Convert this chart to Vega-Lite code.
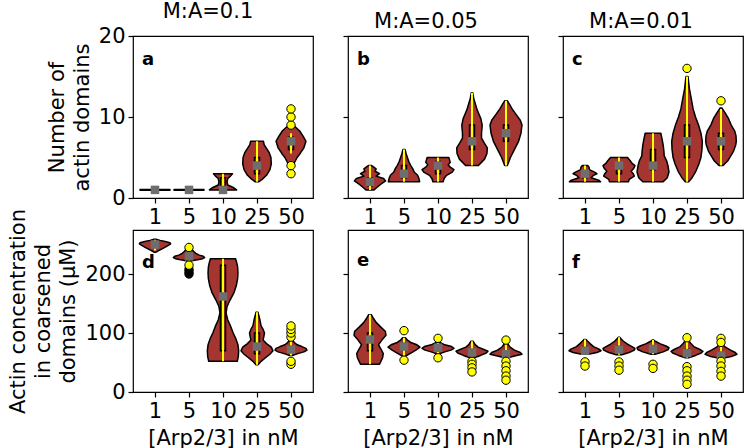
{
"$schema": "https://vega.github.io/schema/vega-lite/v6.json",
"padding": {"left": 7, "right": 0, "top": 0, "bottom": 0},
"datasets": {
"vio": [
{"p":"a","arp":1,"v":0.95,"w":0.44},{"p":"a","arp":1,"v":1.05,"w":0.44},
{"p":"a","arp":5,"v":0.95,"w":0.44},{"p":"a","arp":5,"v":1.05,"w":0.44},
{"p":"a","arp":10,"v":1,"w":0.40},{"p":"a","arp":10,"v":1.3,"w":0.30},{"p":"a","arp":10,"v":1.6,"w":0.14},{"p":"a","arp":10,"v":2.0,"w":0.12},{"p":"a","arp":10,"v":2.4,"w":0.14},{"p":"a","arp":10,"v":2.7,"w":0.22},{"p":"a","arp":10,"v":3.0,"w":0.28},
{"p":"a","arp":25,"v":2,"w":0.05},{"p":"a","arp":25,"v":2.3,"w":0.15},{"p":"a","arp":25,"v":2.8,"w":0.28},{"p":"a","arp":25,"v":3.5,"w":0.38},{"p":"a","arp":25,"v":4.2,"w":0.42},{"p":"a","arp":25,"v":5,"w":0.41},{"p":"a","arp":25,"v":5.6,"w":0.36},{"p":"a","arp":25,"v":6.2,"w":0.27},{"p":"a","arp":25,"v":6.6,"w":0.21},{"p":"a","arp":25,"v":7,"w":0.19},
{"p":"a","arp":50,"v":3.5,"w":0.02},{"p":"a","arp":50,"v":4.2,"w":0.08},{"p":"a","arp":50,"v":5,"w":0.18},{"p":"a","arp":50,"v":5.5,"w":0.27},{"p":"a","arp":50,"v":6.2,"w":0.38},{"p":"a","arp":50,"v":7,"w":0.44},{"p":"a","arp":50,"v":7.6,"w":0.36},{"p":"a","arp":50,"v":8.3,"w":0.25},{"p":"a","arp":50,"v":8.8,"w":0.12},{"p":"a","arp":50,"v":9.2,"w":0.02},
{"p":"b","arp":1,"v":1,"w":0.12},{"p":"b","arp":1,"v":1.3,"w":0.2},{"p":"b","arp":1,"v":1.7,"w":0.32},{"p":"b","arp":1,"v":2.1,"w":0.46},{"p":"b","arp":1,"v":2.4,"w":0.40},{"p":"b","arp":1,"v":2.7,"w":0.18},{"p":"b","arp":1,"v":3.0,"w":0.28},{"p":"b","arp":1,"v":3.3,"w":0.15},{"p":"b","arp":1,"v":3.6,"w":0.18},{"p":"b","arp":1,"v":4.0,"w":0.05},
{"p":"b","arp":5,"v":2,"w":0.46},{"p":"b","arp":5,"v":2.4,"w":0.44},{"p":"b","arp":5,"v":2.8,"w":0.40},{"p":"b","arp":5,"v":3.2,"w":0.3},{"p":"b","arp":5,"v":3.6,"w":0.26},{"p":"b","arp":5,"v":4.0,"w":0.2},{"p":"b","arp":5,"v":4.5,"w":0.14},{"p":"b","arp":5,"v":5.0,"w":0.1},{"p":"b","arp":5,"v":5.5,"w":0.06},{"p":"b","arp":5,"v":6,"w":0.03},
{"p":"b","arp":10,"v":2,"w":0.15},{"p":"b","arp":10,"v":2.4,"w":0.18},{"p":"b","arp":10,"v":2.8,"w":0.25},{"p":"b","arp":10,"v":3.2,"w":0.42},{"p":"b","arp":10,"v":3.5,"w":0.47},{"p":"b","arp":10,"v":3.8,"w":0.36},{"p":"b","arp":10,"v":4.1,"w":0.3},{"p":"b","arp":10,"v":4.4,"w":0.36},{"p":"b","arp":10,"v":4.7,"w":0.34},{"p":"b","arp":10,"v":5.0,"w":0.32},
{"p":"b","arp":25,"v":4,"w":0.19},{"p":"b","arp":25,"v":4.8,"w":0.37},{"p":"b","arp":25,"v":5.5,"w":0.44},{"p":"b","arp":25,"v":6.2,"w":0.45},{"p":"b","arp":25,"v":6.8,"w":0.36},{"p":"b","arp":25,"v":7.4,"w":0.28},{"p":"b","arp":25,"v":8,"w":0.28},{"p":"b","arp":25,"v":9,"w":0.3},{"p":"b","arp":25,"v":9.8,"w":0.26},{"p":"b","arp":25,"v":10.4,"w":0.2},{"p":"b","arp":25,"v":11,"w":0.14},{"p":"b","arp":25,"v":11.6,"w":0.1},{"p":"b","arp":25,"v":12.3,"w":0.05},{"p":"b","arp":25,"v":13,"w":0.02},
{"p":"b","arp":50,"v":4,"w":0.04},{"p":"b","arp":50,"v":5,"w":0.13},{"p":"b","arp":50,"v":6,"w":0.25},{"p":"b","arp":50,"v":7,"w":0.37},{"p":"b","arp":50,"v":8,"w":0.44},{"p":"b","arp":50,"v":9,"w":0.47},{"p":"b","arp":50,"v":9.6,"w":0.42},{"p":"b","arp":50,"v":10.3,"w":0.3},{"p":"b","arp":50,"v":11,"w":0.18},{"p":"b","arp":50,"v":11.6,"w":0.1},{"p":"b","arp":50,"v":12,"w":0.04},
{"p":"c","arp":1,"v":2,"w":0.46},{"p":"c","arp":1,"v":2.2,"w":0.4},{"p":"c","arp":1,"v":2.5,"w":0.18},{"p":"c","arp":1,"v":2.8,"w":0.25},{"p":"c","arp":1,"v":3.0,"w":0.35},{"p":"c","arp":1,"v":3.2,"w":0.28},{"p":"c","arp":1,"v":3.5,"w":0.13},{"p":"c","arp":1,"v":3.8,"w":0.12},{"p":"c","arp":1,"v":4.0,"w":0.08},
{"p":"c","arp":5,"v":2,"w":0.28},{"p":"c","arp":5,"v":2.3,"w":0.3},{"p":"c","arp":5,"v":2.7,"w":0.45},{"p":"c","arp":5,"v":3.0,"w":0.42},{"p":"c","arp":5,"v":3.3,"w":0.36},{"p":"c","arp":5,"v":3.7,"w":0.44},{"p":"c","arp":5,"v":4.0,"w":0.47},{"p":"c","arp":5,"v":4.3,"w":0.38},{"p":"c","arp":5,"v":4.6,"w":0.33},{"p":"c","arp":5,"v":5.0,"w":0.25},
{"p":"c","arp":10,"v":2,"w":0.3},{"p":"c","arp":10,"v":2.5,"w":0.42},{"p":"c","arp":10,"v":3.2,"w":0.47},{"p":"c","arp":10,"v":4,"w":0.44},{"p":"c","arp":10,"v":4.6,"w":0.4},{"p":"c","arp":10,"v":5.2,"w":0.33},{"p":"c","arp":10,"v":5.8,"w":0.32},{"p":"c","arp":10,"v":6.5,"w":0.3},{"p":"c","arp":10,"v":7.2,"w":0.27},{"p":"c","arp":10,"v":8,"w":0.23},
{"p":"c","arp":25,"v":2,"w":0.05},{"p":"c","arp":25,"v":2.5,"w":0.15},{"p":"c","arp":25,"v":3.3,"w":0.26},{"p":"c","arp":25,"v":4.2,"w":0.35},{"p":"c","arp":25,"v":5,"w":0.41},{"p":"c","arp":25,"v":6,"w":0.44},{"p":"c","arp":25,"v":7,"w":0.45},{"p":"c","arp":25,"v":8,"w":0.41},{"p":"c","arp":25,"v":9,"w":0.34},{"p":"c","arp":25,"v":10,"w":0.25},{"p":"c","arp":25,"v":11,"w":0.18},{"p":"c","arp":25,"v":12.4,"w":0.12},{"p":"c","arp":25,"v":13.5,"w":0.07},{"p":"c","arp":25,"v":15,"w":0.03},
{"p":"c","arp":50,"v":4,"w":0.06},{"p":"c","arp":50,"v":4.6,"w":0.2},{"p":"c","arp":50,"v":5.3,"w":0.3},{"p":"c","arp":50,"v":5.8,"w":0.37},{"p":"c","arp":50,"v":6.5,"w":0.43},{"p":"c","arp":50,"v":7,"w":0.45},{"p":"c","arp":50,"v":7.7,"w":0.44},{"p":"c","arp":50,"v":8.3,"w":0.4},{"p":"c","arp":50,"v":9,"w":0.3},{"p":"c","arp":50,"v":9.9,"w":0.21},{"p":"c","arp":50,"v":10.5,"w":0.12},{"p":"c","arp":50,"v":11.1,"w":0.03},
{"p":"d","arp":1,"v":237,"w":0.03},{"p":"d","arp":1,"v":240,"w":0.12},{"p":"d","arp":1,"v":244,"w":0.25},{"p":"d","arp":1,"v":248,"w":0.38},{"p":"d","arp":1,"v":251,"w":0.46},{"p":"d","arp":1,"v":253,"w":0.44},{"p":"d","arp":1,"v":255,"w":0.3},{"p":"d","arp":1,"v":257,"w":0.15},{"p":"d","arp":1,"v":259,"w":0.03},
{"p":"d","arp":5,"v":222,"w":0.05},{"p":"d","arp":5,"v":224,"w":0.25},{"p":"d","arp":5,"v":226,"w":0.4},{"p":"d","arp":5,"v":228,"w":0.46},{"p":"d","arp":5,"v":230,"w":0.42},{"p":"d","arp":5,"v":232,"w":0.3},{"p":"d","arp":5,"v":235,"w":0.2},{"p":"d","arp":5,"v":238,"w":0.14},{"p":"d","arp":5,"v":242,"w":0.08},
{"p":"d","arp":10,"v":52,"w":0.42},{"p":"d","arp":10,"v":60,"w":0.45},{"p":"d","arp":10,"v":70,"w":0.46},{"p":"d","arp":10,"v":80,"w":0.44},{"p":"d","arp":10,"v":90,"w":0.38},{"p":"d","arp":10,"v":100,"w":0.3},{"p":"d","arp":10,"v":112,"w":0.22},{"p":"d","arp":10,"v":122,"w":0.14},{"p":"d","arp":10,"v":134,"w":0.09},{"p":"d","arp":10,"v":145,"w":0.12},{"p":"d","arp":10,"v":155,"w":0.2},{"p":"d","arp":10,"v":168,"w":0.32},{"p":"d","arp":10,"v":180,"w":0.39},{"p":"d","arp":10,"v":192,"w":0.43},{"p":"d","arp":10,"v":202,"w":0.44},{"p":"d","arp":10,"v":212,"w":0.43},{"p":"d","arp":10,"v":220,"w":0.4},{"p":"d","arp":10,"v":226,"w":0.37},
{"p":"d","arp":25,"v":46,"w":0.03},{"p":"d","arp":25,"v":52,"w":0.12},{"p":"d","arp":25,"v":58,"w":0.25},{"p":"d","arp":25,"v":64,"w":0.38},{"p":"d","arp":25,"v":70,"w":0.47},{"p":"d","arp":25,"v":76,"w":0.42},{"p":"d","arp":25,"v":82,"w":0.28},{"p":"d","arp":25,"v":88,"w":0.18},{"p":"d","arp":25,"v":94,"w":0.2},{"p":"d","arp":25,"v":100,"w":0.22},{"p":"d","arp":25,"v":106,"w":0.18},{"p":"d","arp":25,"v":112,"w":0.12},{"p":"d","arp":25,"v":118,"w":0.1},{"p":"d","arp":25,"v":124,"w":0.08},{"p":"d","arp":25,"v":130,"w":0.05},{"p":"d","arp":25,"v":135,"w":0.03},
{"p":"d","arp":50,"v":62,"w":0.04},{"p":"d","arp":50,"v":65,"w":0.2},{"p":"d","arp":50,"v":68,"w":0.38},{"p":"d","arp":50,"v":71,"w":0.47},{"p":"d","arp":50,"v":74,"w":0.44},{"p":"d","arp":50,"v":77,"w":0.32},{"p":"d","arp":50,"v":80,"w":0.18},{"p":"d","arp":50,"v":84,"w":0.1},{"p":"d","arp":50,"v":88,"w":0.04},
{"p":"e","arp":1,"v":47,"w":0.28},{"p":"e","arp":1,"v":52,"w":0.32},{"p":"e","arp":1,"v":58,"w":0.37},{"p":"e","arp":1,"v":65,"w":0.39},{"p":"e","arp":1,"v":72,"w":0.33},{"p":"e","arp":1,"v":80,"w":0.25},{"p":"e","arp":1,"v":88,"w":0.35},{"p":"e","arp":1,"v":96,"w":0.47},{"p":"e","arp":1,"v":103,"w":0.45},{"p":"e","arp":1,"v":110,"w":0.32},{"p":"e","arp":1,"v":118,"w":0.18},{"p":"e","arp":1,"v":125,"w":0.1},{"p":"e","arp":1,"v":131,"w":0.04},
{"p":"e","arp":5,"v":61,"w":0.05},{"p":"e","arp":5,"v":66,"w":0.2},{"p":"e","arp":5,"v":71,"w":0.35},{"p":"e","arp":5,"v":76,"w":0.47},{"p":"e","arp":5,"v":80,"w":0.38},{"p":"e","arp":5,"v":84,"w":0.2},{"p":"e","arp":5,"v":88,"w":0.1},{"p":"e","arp":5,"v":92,"w":0.04},
{"p":"e","arp":10,"v":65,"w":0.06},{"p":"e","arp":10,"v":68,"w":0.2},{"p":"e","arp":10,"v":71,"w":0.38},{"p":"e","arp":10,"v":74,"w":0.47},{"p":"e","arp":10,"v":77,"w":0.4},{"p":"e","arp":10,"v":80,"w":0.2},{"p":"e","arp":10,"v":84,"w":0.06},
{"p":"e","arp":25,"v":58,"w":0.06},{"p":"e","arp":25,"v":62,"w":0.25},{"p":"e","arp":25,"v":66,"w":0.42},{"p":"e","arp":25,"v":69,"w":0.47},{"p":"e","arp":25,"v":72,"w":0.35},{"p":"e","arp":25,"v":76,"w":0.18},{"p":"e","arp":25,"v":80,"w":0.1},{"p":"e","arp":25,"v":86,"w":0.03},
{"p":"e","arp":50,"v":58,"w":0.05},{"p":"e","arp":50,"v":61,"w":0.25},{"p":"e","arp":50,"v":64,"w":0.47},{"p":"e","arp":50,"v":67,"w":0.42},{"p":"e","arp":50,"v":71,"w":0.25},{"p":"e","arp":50,"v":76,"w":0.12},{"p":"e","arp":50,"v":81,"w":0.06},{"p":"e","arp":50,"v":85,"w":0.02},
{"p":"f","arp":1,"v":64,"w":0.1},{"p":"f","arp":1,"v":67,"w":0.35},{"p":"f","arp":1,"v":70,"w":0.47},{"p":"f","arp":1,"v":73,"w":0.4},{"p":"f","arp":1,"v":77,"w":0.25},{"p":"f","arp":1,"v":82,"w":0.15},{"p":"f","arp":1,"v":86,"w":0.08},{"p":"f","arp":1,"v":89,"w":0.03},
{"p":"f","arp":5,"v":63,"w":0.08},{"p":"f","arp":5,"v":67,"w":0.3},{"p":"f","arp":5,"v":71,"w":0.45},{"p":"f","arp":5,"v":74,"w":0.47},{"p":"f","arp":5,"v":77,"w":0.38},{"p":"f","arp":5,"v":81,"w":0.25},{"p":"f","arp":5,"v":86,"w":0.13},{"p":"f","arp":5,"v":90,"w":0.06},{"p":"f","arp":5,"v":93,"w":0.02},
{"p":"f","arp":10,"v":64,"w":0.06},{"p":"f","arp":10,"v":68,"w":0.3},{"p":"f","arp":10,"v":72,"w":0.45},{"p":"f","arp":10,"v":75,"w":0.47},{"p":"f","arp":10,"v":78,"w":0.38},{"p":"f","arp":10,"v":82,"w":0.2},{"p":"f","arp":10,"v":86,"w":0.07},{"p":"f","arp":10,"v":88,"w":0.02},
{"p":"f","arp":25,"v":58,"w":0.05},{"p":"f","arp":25,"v":62,"w":0.25},{"p":"f","arp":25,"v":66,"w":0.42},{"p":"f","arp":25,"v":69,"w":0.47},{"p":"f","arp":25,"v":72,"w":0.38},{"p":"f","arp":25,"v":77,"w":0.2},{"p":"f","arp":25,"v":83,"w":0.1},{"p":"f","arp":25,"v":88,"w":0.05},{"p":"f","arp":25,"v":92,"w":0.02},
{"p":"f","arp":50,"v":57,"w":0.05},{"p":"f","arp":50,"v":60,"w":0.3},{"p":"f","arp":50,"v":64,"w":0.47},{"p":"f","arp":50,"v":67,"w":0.42},{"p":"f","arp":50,"v":71,"w":0.28},{"p":"f","arp":50,"v":76,"w":0.13},{"p":"f","arp":50,"v":80,"w":0.06},{"p":"f","arp":50,"v":84,"w":0.02}
],
"stat": [
{"p":"a","arp":1,"lo":1,"q1":1,"med":1,"q3":1,"hi":1},
{"p":"a","arp":5,"lo":1,"q1":1,"med":1,"q3":1,"hi":1},
{"p":"a","arp":10,"lo":1,"q1":1,"med":1,"q3":2.5,"hi":3},
{"p":"a","arp":25,"lo":2,"q1":3,"med":4,"q3":5,"hi":7},
{"p":"a","arp":50,"lo":5.5,"q1":6,"med":7,"q3":7.5,"hi":8},
{"p":"b","arp":1,"lo":1,"q1":1.5,"med":2,"q3":2.5,"hi":4},
{"p":"b","arp":5,"lo":2,"q1":2.5,"med":3,"q3":4,"hi":6},
{"p":"b","arp":10,"lo":2,"q1":3,"med":4,"q3":4.5,"hi":5},
{"p":"b","arp":25,"lo":4,"q1":6,"med":7,"q3":9,"hi":13},
{"p":"b","arp":50,"lo":4,"q1":7,"med":8,"q3":9,"hi":12},
{"p":"c","arp":1,"lo":2,"q1":2.5,"med":3,"q3":3.3,"hi":4},
{"p":"c","arp":5,"lo":2,"q1":3,"med":4,"q3":4.2,"hi":5},
{"p":"c","arp":10,"lo":2,"q1":3.5,"med":4,"q3":6,"hi":8},
{"p":"c","arp":25,"lo":2,"q1":5,"med":7,"q3":9,"hi":15},
{"p":"c","arp":50,"lo":4,"q1":6,"med":7,"q3":8,"hi":11},
{"p":"d","arp":1,"lo":240,"q1":247,"med":250,"q3":253,"hi":258},
{"p":"d","arp":5,"lo":222,"q1":226,"med":230,"q3":235,"hi":242},
{"p":"d","arp":10,"lo":52,"q1":70,"med":162,"q3":215,"hi":226},
{"p":"d","arp":25,"lo":46,"q1":65,"med":77,"q3":100,"hi":135},
{"p":"d","arp":50,"lo":62,"q1":68,"med":72,"q3":77,"hi":88},
{"p":"e","arp":1,"lo":47,"q1":70,"med":89,"q3":100,"hi":131},
{"p":"e","arp":5,"lo":61,"q1":72,"med":77,"q3":82,"hi":92},
{"p":"e","arp":10,"lo":65,"q1":70,"med":75,"q3":78,"hi":84},
{"p":"e","arp":25,"lo":58,"q1":63,"med":67,"q3":72,"hi":86},
{"p":"e","arp":50,"lo":58,"q1":60,"med":64,"q3":70,"hi":85},
{"p":"f","arp":1,"lo":64,"q1":67,"med":70,"q3":76,"hi":89},
{"p":"f","arp":5,"lo":63,"q1":68,"med":72,"q3":78,"hi":93},
{"p":"f","arp":10,"lo":64,"q1":69,"med":73,"q3":78,"hi":88},
{"p":"f","arp":25,"lo":58,"q1":62,"med":66,"q3":72,"hi":92},
{"p":"f","arp":50,"lo":57,"q1":59,"med":62,"q3":68,"hi":84}
],
"out": [
{"p":"a","arp":50,"v":3,"k":"y"},{"p":"a","arp":50,"v":4,"k":"y"},{"p":"a","arp":50,"v":9,"k":"y"},{"p":"a","arp":50,"v":10,"k":"y"},{"p":"a","arp":50,"v":11,"k":"y"},
{"p":"c","arp":25,"v":16,"k":"y"},{"p":"c","arp":50,"v":12,"k":"y"},
{"p":"d","arp":5,"v":208,"k":"k"},{"p":"d","arp":5,"v":204,"k":"k"},{"p":"d","arp":5,"v":200,"k":"k"},{"p":"d","arp":5,"v":245,"k":"y"},{"p":"d","arp":5,"v":215,"k":"y"},
{"p":"d","arp":50,"v":47,"k":"y"},{"p":"d","arp":50,"v":52,"k":"y"},{"p":"d","arp":50,"v":93,"k":"y"},{"p":"d","arp":50,"v":100,"k":"y"},{"p":"d","arp":50,"v":106,"k":"y"},{"p":"d","arp":50,"v":112,"k":"y"},
{"p":"e","arp":5,"v":54,"k":"y"},{"p":"e","arp":5,"v":104,"k":"y"},
{"p":"e","arp":10,"v":58,"k":"y"},{"p":"e","arp":10,"v":91,"k":"y"},
{"p":"e","arp":25,"v":52,"k":"y"},{"p":"e","arp":25,"v":47,"k":"y"},{"p":"e","arp":25,"v":41,"k":"y"},{"p":"e","arp":25,"v":34,"k":"y"},
{"p":"e","arp":50,"v":88,"k":"y"},{"p":"e","arp":50,"v":52,"k":"y"},{"p":"e","arp":50,"v":44,"k":"y"},{"p":"e","arp":50,"v":36,"k":"y"},{"p":"e","arp":50,"v":27,"k":"y"},{"p":"e","arp":50,"v":20,"k":"y"},
{"p":"f","arp":1,"v":51,"k":"y"},{"p":"f","arp":1,"v":44,"k":"y"},
{"p":"f","arp":5,"v":51,"k":"y"},{"p":"f","arp":5,"v":44,"k":"y"},{"p":"f","arp":5,"v":37,"k":"y"},
{"p":"f","arp":10,"v":47,"k":"y"},{"p":"f","arp":10,"v":40,"k":"y"},
{"p":"f","arp":25,"v":92,"k":"y"},{"p":"f","arp":25,"v":43,"k":"y"},{"p":"f","arp":25,"v":36,"k":"y"},{"p":"f","arp":25,"v":27,"k":"y"},{"p":"f","arp":25,"v":20,"k":"y"},{"p":"f","arp":25,"v":13,"k":"y"},
{"p":"f","arp":50,"v":91,"k":"y"},{"p":"f","arp":50,"v":84,"k":"y"},{"p":"f","arp":50,"v":52,"k":"y"},{"p":"f","arp":50,"v":44,"k":"y"},{"p":"f","arp":50,"v":35,"k":"y"},{"p":"f","arp":50,"v":27,"k":"y"}
]
},
"columns": 3,
"bounds": "flush",
"spacing": {"row": 32, "column": 35},
"concat": [
{"width":180,"height":162,"title":{"text":"M:A=0.1","dx":-15},
"layer":[
{"data":{"name":"vio"},"transform":[{"filter":"datum.p == 'a'"},{"calculate":"indexof([1,5,10,25,50], datum.arp) + 1","as":"i"},{"calculate":"datum.i - datum.w","as":"xl"},{"calculate":"datum.i + datum.w","as":"xr"}],
"mark":{"type":"area","orient":"horizontal","fill":"#a53530","stroke":"black","strokeWidth":1.5,"strokeJoin":"round"},
"encoding":{"x":{"field":"xl","type":"quantitative","stack":null,"scale":{"domain":[0.5,5.5],"nice":false},"axis":{"values":[1,2,3,4,5],"labelExpr":"['1','5','10','25','50'][datum.value - 1]","title":null}},"x2":{"field":"xr"},
"y":{"field":"v","type":"quantitative","scale":{"domain":[0,20],"nice":false},"axis":{"values":[0,10,20],"title":["Number of","actin domains"]}},"detail":{"field":"arp","type":"nominal"}}},
{"data":{"name":"stat"},"transform":[{"filter":"datum.p == 'a'"},{"calculate":"indexof([1,5,10,25,50], datum.arp) + 1","as":"i"}],
"mark":{"type":"bar","size":5,"fillOpacity":0,"stroke":"black","strokeWidth":1.5},
"encoding":{"x":{"field":"i","type":"quantitative"},"y":{"field":"q1","type":"quantitative"},"y2":{"field":"q3"}}},
{"data":{"name":"stat"},"transform":[{"filter":"datum.p == 'a'"},{"calculate":"indexof([1,5,10,25,50], datum.arp) + 1","as":"i"}],
"mark":{"type":"rule","color":"#ffff00","strokeWidth":2},
"encoding":{"x":{"field":"i","type":"quantitative"},"y":{"field":"lo","type":"quantitative"},"y2":{"field":"hi"}}},
{"data":{"name":"stat"},"transform":[{"filter":"datum.p == 'a'"},{"calculate":"indexof([1,5,10,25,50], datum.arp) + 1","as":"i"}],
"mark":{"type":"point","shape":"square","filled":true,"color":"#6e6e6e","size":72,"opacity":1},
"encoding":{"x":{"field":"i","type":"quantitative"},"y":{"field":"med","type":"quantitative"}}},
{"data":{"name":"out"},"transform":[{"filter":"datum.p == 'a'"},{"calculate":"indexof([1,5,10,25,50], datum.arp) + 1","as":"i"}],
"mark":{"type":"point","shape":"circle","filled":true,"stroke":"black","strokeWidth":1,"size":70,"opacity":1},
"encoding":{"x":{"field":"i","type":"quantitative"},"y":{"field":"v","type":"quantitative"},"fill":{"field":"k","type":"nominal","scale":{"domain":["y","k"],"range":["#ffff00","black"]},"legend":null}}},
{"data":{"values":[{"t":"a"}]},"mark":{"type":"text","fontWeight":"bold","fontSize":18,"align":"left","baseline":"middle","color":"black"},
"encoding":{"text":{"field":"t"},"x":{"datum":0.62,"type":"quantitative"},"y":{"datum":17,"type":"quantitative"}}}
]},
{"width":180,"height":162,"title":{"text":"M:A=0.05","dx":-12},
"layer":[
{"data":{"name":"vio"},"transform":[{"filter":"datum.p == 'b'"},{"calculate":"indexof([1,5,10,25,50], datum.arp) + 1","as":"i"},{"calculate":"datum.i - datum.w","as":"xl"},{"calculate":"datum.i + datum.w","as":"xr"}],
"mark":{"type":"area","orient":"horizontal","fill":"#a53530","stroke":"black","strokeWidth":1.5,"strokeJoin":"round"},
"encoding":{"x":{"field":"xl","type":"quantitative","stack":null,"scale":{"domain":[0.5,5.5],"nice":false},"axis":{"values":[1,2,3,4,5],"labelExpr":"['1','5','10','25','50'][datum.value - 1]","title":null}},"x2":{"field":"xr"},
"y":{"field":"v","type":"quantitative","scale":{"domain":[0,20],"nice":false},"axis":{"values":[0,10,20],"labels":false,"title":null}},"detail":{"field":"arp","type":"nominal"}}},
{"data":{"name":"stat"},"transform":[{"filter":"datum.p == 'b'"},{"calculate":"indexof([1,5,10,25,50], datum.arp) + 1","as":"i"}],
"mark":{"type":"bar","size":5,"fillOpacity":0,"stroke":"black","strokeWidth":1.5},
"encoding":{"x":{"field":"i","type":"quantitative"},"y":{"field":"q1","type":"quantitative"},"y2":{"field":"q3"}}},
{"data":{"name":"stat"},"transform":[{"filter":"datum.p == 'b'"},{"calculate":"indexof([1,5,10,25,50], datum.arp) + 1","as":"i"}],
"mark":{"type":"rule","color":"#ffff00","strokeWidth":2},
"encoding":{"x":{"field":"i","type":"quantitative"},"y":{"field":"lo","type":"quantitative"},"y2":{"field":"hi"}}},
{"data":{"name":"stat"},"transform":[{"filter":"datum.p == 'b'"},{"calculate":"indexof([1,5,10,25,50], datum.arp) + 1","as":"i"}],
"mark":{"type":"point","shape":"square","filled":true,"color":"#6e6e6e","size":72,"opacity":1},
"encoding":{"x":{"field":"i","type":"quantitative"},"y":{"field":"med","type":"quantitative"}}},
{"data":{"name":"out"},"transform":[{"filter":"datum.p == 'b'"},{"calculate":"indexof([1,5,10,25,50], datum.arp) + 1","as":"i"}],
"mark":{"type":"point","shape":"circle","filled":true,"stroke":"black","strokeWidth":1,"size":70,"opacity":1},
"encoding":{"x":{"field":"i","type":"quantitative"},"y":{"field":"v","type":"quantitative"},"fill":{"field":"k","type":"nominal","scale":{"domain":["y","k"],"range":["#ffff00","black"]},"legend":null}}},
{"data":{"values":[{"t":"b"}]},"mark":{"type":"text","fontWeight":"bold","fontSize":18,"align":"left","baseline":"middle","color":"black"},
"encoding":{"text":{"field":"t"},"x":{"datum":0.62,"type":"quantitative"},"y":{"datum":17,"type":"quantitative"}}}
]},
{"width":180,"height":162,"title":{"text":"M:A=0.01","dx":-12},
"layer":[
{"data":{"name":"vio"},"transform":[{"filter":"datum.p == 'c'"},{"calculate":"indexof([1,5,10,25,50], datum.arp) + 1","as":"i"},{"calculate":"datum.i - datum.w","as":"xl"},{"calculate":"datum.i + datum.w","as":"xr"}],
"mark":{"type":"area","orient":"horizontal","fill":"#a53530","stroke":"black","strokeWidth":1.5,"strokeJoin":"round"},
"encoding":{"x":{"field":"xl","type":"quantitative","stack":null,"scale":{"domain":[0.5,5.5],"nice":false},"axis":{"values":[1,2,3,4,5],"labelExpr":"['1','5','10','25','50'][datum.value - 1]","title":null}},"x2":{"field":"xr"},
"y":{"field":"v","type":"quantitative","scale":{"domain":[0,20],"nice":false},"axis":{"values":[0,10,20],"labels":false,"title":null}},"detail":{"field":"arp","type":"nominal"}}},
{"data":{"name":"stat"},"transform":[{"filter":"datum.p == 'c'"},{"calculate":"indexof([1,5,10,25,50], datum.arp) + 1","as":"i"}],
"mark":{"type":"bar","size":5,"fillOpacity":0,"stroke":"black","strokeWidth":1.5},
"encoding":{"x":{"field":"i","type":"quantitative"},"y":{"field":"q1","type":"quantitative"},"y2":{"field":"q3"}}},
{"data":{"name":"stat"},"transform":[{"filter":"datum.p == 'c'"},{"calculate":"indexof([1,5,10,25,50], datum.arp) + 1","as":"i"}],
"mark":{"type":"rule","color":"#ffff00","strokeWidth":2},
"encoding":{"x":{"field":"i","type":"quantitative"},"y":{"field":"lo","type":"quantitative"},"y2":{"field":"hi"}}},
{"data":{"name":"stat"},"transform":[{"filter":"datum.p == 'c'"},{"calculate":"indexof([1,5,10,25,50], datum.arp) + 1","as":"i"}],
"mark":{"type":"point","shape":"square","filled":true,"color":"#6e6e6e","size":72,"opacity":1},
"encoding":{"x":{"field":"i","type":"quantitative"},"y":{"field":"med","type":"quantitative"}}},
{"data":{"name":"out"},"transform":[{"filter":"datum.p == 'c'"},{"calculate":"indexof([1,5,10,25,50], datum.arp) + 1","as":"i"}],
"mark":{"type":"point","shape":"circle","filled":true,"stroke":"black","strokeWidth":1,"size":70,"opacity":1},
"encoding":{"x":{"field":"i","type":"quantitative"},"y":{"field":"v","type":"quantitative"},"fill":{"field":"k","type":"nominal","scale":{"domain":["y","k"],"range":["#ffff00","black"]},"legend":null}}},
{"data":{"values":[{"t":"c"}]},"mark":{"type":"text","fontWeight":"bold","fontSize":18,"align":"left","baseline":"middle","color":"black"},
"encoding":{"text":{"field":"t"},"x":{"datum":0.62,"type":"quantitative"},"y":{"datum":17,"type":"quantitative"}}}
]},
{"width":180,"height":162,
"layer":[
{"data":{"name":"vio"},"transform":[{"filter":"datum.p == 'd'"},{"calculate":"indexof([1,5,10,25,50], datum.arp) + 1","as":"i"},{"calculate":"datum.i - datum.w","as":"xl"},{"calculate":"datum.i + datum.w","as":"xr"}],
"mark":{"type":"area","orient":"horizontal","fill":"#a53530","stroke":"black","strokeWidth":1.5,"strokeJoin":"round"},
"encoding":{"x":{"field":"xl","type":"quantitative","stack":null,"scale":{"domain":[0.5,5.5],"nice":false},"axis":{"values":[1,2,3,4,5],"labelExpr":"['1','5','10','25','50'][datum.value - 1]","title":"[Arp2/3] in nM"}},"x2":{"field":"xr"},
"y":{"field":"v","type":"quantitative","scale":{"domain":[0,274.6],"nice":false},"axis":{"values":[0,100,200],"title":["Actin concentration","in coarsened","domains (μM)"]}},"detail":{"field":"arp","type":"nominal"}}},
{"data":{"name":"stat"},"transform":[{"filter":"datum.p == 'd'"},{"calculate":"indexof([1,5,10,25,50], datum.arp) + 1","as":"i"}],
"mark":{"type":"bar","size":5,"fillOpacity":0,"stroke":"black","strokeWidth":1.5},
"encoding":{"x":{"field":"i","type":"quantitative"},"y":{"field":"q1","type":"quantitative"},"y2":{"field":"q3"}}},
{"data":{"name":"stat"},"transform":[{"filter":"datum.p == 'd'"},{"calculate":"indexof([1,5,10,25,50], datum.arp) + 1","as":"i"}],
"mark":{"type":"rule","color":"#ffff00","strokeWidth":2},
"encoding":{"x":{"field":"i","type":"quantitative"},"y":{"field":"lo","type":"quantitative"},"y2":{"field":"hi"}}},
{"data":{"name":"stat"},"transform":[{"filter":"datum.p == 'd'"},{"calculate":"indexof([1,5,10,25,50], datum.arp) + 1","as":"i"}],
"mark":{"type":"point","shape":"square","filled":true,"color":"#6e6e6e","size":72,"opacity":1},
"encoding":{"x":{"field":"i","type":"quantitative"},"y":{"field":"med","type":"quantitative"}}},
{"data":{"name":"out"},"transform":[{"filter":"datum.p == 'd'"},{"calculate":"indexof([1,5,10,25,50], datum.arp) + 1","as":"i"}],
"mark":{"type":"point","shape":"circle","filled":true,"stroke":"black","strokeWidth":1,"size":70,"opacity":1},
"encoding":{"x":{"field":"i","type":"quantitative"},"y":{"field":"v","type":"quantitative"},"fill":{"field":"k","type":"nominal","scale":{"domain":["y","k"],"range":["#ffff00","black"]},"legend":null}}},
{"data":{"values":[{"t":"d"}]},"mark":{"type":"text","fontWeight":"bold","fontSize":18,"align":"left","baseline":"middle","color":"black"},
"encoding":{"text":{"field":"t"},"x":{"datum":0.62,"type":"quantitative"},"y":{"datum":218,"type":"quantitative"}}}
]},
{"width":180,"height":162,
"layer":[
{"data":{"name":"vio"},"transform":[{"filter":"datum.p == 'e'"},{"calculate":"indexof([1,5,10,25,50], datum.arp) + 1","as":"i"},{"calculate":"datum.i - datum.w","as":"xl"},{"calculate":"datum.i + datum.w","as":"xr"}],
"mark":{"type":"area","orient":"horizontal","fill":"#a53530","stroke":"black","strokeWidth":1.5,"strokeJoin":"round"},
"encoding":{"x":{"field":"xl","type":"quantitative","stack":null,"scale":{"domain":[0.5,5.5],"nice":false},"axis":{"values":[1,2,3,4,5],"labelExpr":"['1','5','10','25','50'][datum.value - 1]","title":"[Arp2/3] in nM"}},"x2":{"field":"xr"},
"y":{"field":"v","type":"quantitative","scale":{"domain":[0,274.6],"nice":false},"axis":{"values":[0,100,200],"labels":false,"title":null}},"detail":{"field":"arp","type":"nominal"}}},
{"data":{"name":"stat"},"transform":[{"filter":"datum.p == 'e'"},{"calculate":"indexof([1,5,10,25,50], datum.arp) + 1","as":"i"}],
"mark":{"type":"bar","size":5,"fillOpacity":0,"stroke":"black","strokeWidth":1.5},
"encoding":{"x":{"field":"i","type":"quantitative"},"y":{"field":"q1","type":"quantitative"},"y2":{"field":"q3"}}},
{"data":{"name":"stat"},"transform":[{"filter":"datum.p == 'e'"},{"calculate":"indexof([1,5,10,25,50], datum.arp) + 1","as":"i"}],
"mark":{"type":"rule","color":"#ffff00","strokeWidth":2},
"encoding":{"x":{"field":"i","type":"quantitative"},"y":{"field":"lo","type":"quantitative"},"y2":{"field":"hi"}}},
{"data":{"name":"stat"},"transform":[{"filter":"datum.p == 'e'"},{"calculate":"indexof([1,5,10,25,50], datum.arp) + 1","as":"i"}],
"mark":{"type":"point","shape":"square","filled":true,"color":"#6e6e6e","size":72,"opacity":1},
"encoding":{"x":{"field":"i","type":"quantitative"},"y":{"field":"med","type":"quantitative"}}},
{"data":{"name":"out"},"transform":[{"filter":"datum.p == 'e'"},{"calculate":"indexof([1,5,10,25,50], datum.arp) + 1","as":"i"}],
"mark":{"type":"point","shape":"circle","filled":true,"stroke":"black","strokeWidth":1,"size":70,"opacity":1},
"encoding":{"x":{"field":"i","type":"quantitative"},"y":{"field":"v","type":"quantitative"},"fill":{"field":"k","type":"nominal","scale":{"domain":["y","k"],"range":["#ffff00","black"]},"legend":null}}},
{"data":{"values":[{"t":"e"}]},"mark":{"type":"text","fontWeight":"bold","fontSize":18,"align":"left","baseline":"middle","color":"black"},
"encoding":{"text":{"field":"t"},"x":{"datum":0.62,"type":"quantitative"},"y":{"datum":222,"type":"quantitative"}}}
]},
{"width":180,"height":162,
"layer":[
{"data":{"name":"vio"},"transform":[{"filter":"datum.p == 'f'"},{"calculate":"indexof([1,5,10,25,50], datum.arp) + 1","as":"i"},{"calculate":"datum.i - datum.w","as":"xl"},{"calculate":"datum.i + datum.w","as":"xr"}],
"mark":{"type":"area","orient":"horizontal","fill":"#a53530","stroke":"black","strokeWidth":1.5,"strokeJoin":"round"},
"encoding":{"x":{"field":"xl","type":"quantitative","stack":null,"scale":{"domain":[0.5,5.5],"nice":false},"axis":{"values":[1,2,3,4,5],"labelExpr":"['1','5','10','25','50'][datum.value - 1]","title":"[Arp2/3] in nM"}},"x2":{"field":"xr"},
"y":{"field":"v","type":"quantitative","scale":{"domain":[0,274.6],"nice":false},"axis":{"values":[0,100,200],"labels":false,"title":null}},"detail":{"field":"arp","type":"nominal"}}},
{"data":{"name":"stat"},"transform":[{"filter":"datum.p == 'f'"},{"calculate":"indexof([1,5,10,25,50], datum.arp) + 1","as":"i"}],
"mark":{"type":"bar","size":5,"fillOpacity":0,"stroke":"black","strokeWidth":1.5},
"encoding":{"x":{"field":"i","type":"quantitative"},"y":{"field":"q1","type":"quantitative"},"y2":{"field":"q3"}}},
{"data":{"name":"stat"},"transform":[{"filter":"datum.p == 'f'"},{"calculate":"indexof([1,5,10,25,50], datum.arp) + 1","as":"i"}],
"mark":{"type":"rule","color":"#ffff00","strokeWidth":2},
"encoding":{"x":{"field":"i","type":"quantitative"},"y":{"field":"lo","type":"quantitative"},"y2":{"field":"hi"}}},
{"data":{"name":"stat"},"transform":[{"filter":"datum.p == 'f'"},{"calculate":"indexof([1,5,10,25,50], datum.arp) + 1","as":"i"}],
"mark":{"type":"point","shape":"square","filled":true,"color":"#6e6e6e","size":72,"opacity":1},
"encoding":{"x":{"field":"i","type":"quantitative"},"y":{"field":"med","type":"quantitative"}}},
{"data":{"name":"out"},"transform":[{"filter":"datum.p == 'f'"},{"calculate":"indexof([1,5,10,25,50], datum.arp) + 1","as":"i"}],
"mark":{"type":"point","shape":"circle","filled":true,"stroke":"black","strokeWidth":1,"size":70,"opacity":1},
"encoding":{"x":{"field":"i","type":"quantitative"},"y":{"field":"v","type":"quantitative"},"fill":{"field":"k","type":"nominal","scale":{"domain":["y","k"],"range":["#ffff00","black"]},"legend":null}}},
{"data":{"values":[{"t":"f"}]},"mark":{"type":"text","fontWeight":"bold","fontSize":18,"align":"left","baseline":"middle","color":"black"},
"encoding":{"text":{"field":"t"},"x":{"datum":0.62,"type":"quantitative"},"y":{"datum":218,"type":"quantitative"}}}
]}
],
"config": {
"font": "DejaVu Sans",
"view": {"stroke": "black", "strokeWidth": 1.2},
"axis": {"grid": false, "domain": false, "tickColor": "black", "tickSize": 5, "tickWidth": 1.2, "labelFontSize": 21, "labelColor": "black", "labelPadding": 3, "labelFlush": false, "labelOverlap": false, "titleFontSize": 21, "titleColor": "black", "titleFontWeight": "normal", "titlePadding": 6, "titleLineHeight": 25},
"title": {"fontSize": 21, "fontWeight": "normal", "color": "black", "offset": 3, "anchor": "middle", "frame": "group"}
}
}
